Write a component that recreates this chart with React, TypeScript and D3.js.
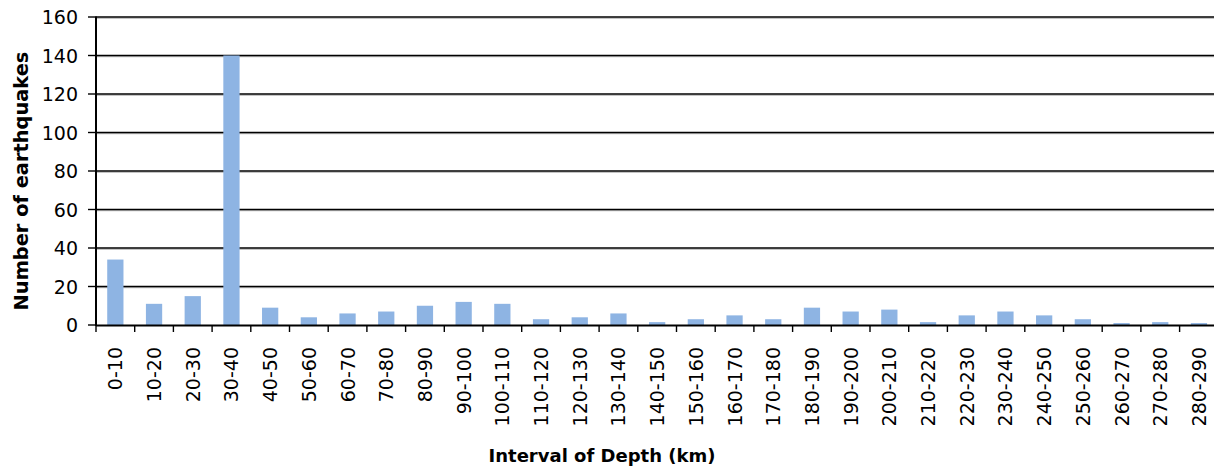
import { scaleBand, scaleLinear } from 'd3'

// Earthquake count per depth interval (km)
const categories = [
  '0-10', '10-20', '20-30', '30-40', '40-50', '50-60', '60-70', '70-80', '80-90', '90-100',
  '100-110', '110-120', '120-130', '130-140', '140-150', '150-160', '160-170', '170-180', '180-190', '190-200',
  '200-210', '210-220', '220-230', '230-240', '240-250', '250-260', '260-270', '270-280', '280-290',
]
const counts = [
  34, 11, 15, 140, 9, 4, 6, 7, 10, 12,
  11, 3, 4, 6, 1.5, 3, 5, 3, 9, 7,
  8, 1.5, 5, 7, 5, 3, 1, 1.5, 1,
]
const yTicks = [0, 20, 40, 60, 80, 100, 120, 140, 160]

const W = 1214
const H = 467
const LEFT = 96
const TOP = 17
const BOTTOM = 325
const STEP = 38.7
const FONT = 'Verdana, "DejaVu Sans", sans-serif'
const BAR_FILL = '#8eb4e3'

export default function App() {
  const x = scaleBand<string>()
    .domain(categories)
    .range([LEFT, LEFT + STEP * categories.length])
    .paddingInner(0.58)
    .paddingOuter(0.29)
  const y = scaleLinear().domain([0, 160]).range([BOTTOM, TOP])
  const step = x.step()

  return (
    <>
      <style>{`body{margin:0}`}</style>
      <svg width={W} height={H} viewBox={`0 0 ${W} ${H}`} style={{ display: 'block', fontFamily: FONT }}>
        <rect width={W} height={H} fill="#fff" />

        {/* gridlines with a faint shadow underneath */}
        {yTicks.filter((t) => t > 0).map((t) => (
          <g key={t}>
            <line x1={LEFT} x2={W} y1={y(t) + 1.2} y2={y(t) + 1.2} stroke="#aaa" strokeWidth={1} />
            <line x1={LEFT} x2={W} y1={y(t)} y2={y(t)} stroke="#000" strokeWidth={1.4} />
          </g>
        ))}

        {categories.map((c, i) => {
          const v = counts[i]
          return <rect key={c} x={x(c)} y={y(v)} width={x.bandwidth()} height={BOTTOM - y(v)} fill={BAR_FILL} />
        })}

        {/* axes */}
        <line x1={LEFT} x2={LEFT} y1={TOP - 0.5} y2={BOTTOM + 1} stroke="#000" strokeWidth={2} />
        <line x1={LEFT} x2={W} y1={BOTTOM + 0.5} y2={BOTTOM + 0.5} stroke="#000" strokeWidth={2} />

        {yTicks.map((t) => (
          <g key={t}>
            <line x1={LEFT - 8} x2={LEFT} y1={y(t)} y2={y(t)} stroke="#000" strokeWidth={1.4} />
            <text x={78} y={y(t)} textAnchor="end" dominantBaseline="central" fontSize={19} fill="#000">
              {t}
            </text>
          </g>
        ))}

        {categories.map((c, i) => {
          const bx = LEFT + i * step
          const cx = (x(c) ?? 0) + x.bandwidth() / 2
          return (
            <g key={c}>
              <line x1={bx} x2={bx} y1={BOTTOM} y2={BOTTOM + 7} stroke="#000" strokeWidth={1.4} />
              <text
                transform={`translate(${cx}, 347) rotate(-90)`}
                textAnchor="end"
                dominantBaseline="central"
                fontSize={19}
                fill="#000"
              >
                {c}
              </text>
            </g>
          )
        })}

        <text
          transform="translate(21, 181) rotate(-90)"
          textAnchor="middle"
          dominantBaseline="central"
          fontSize={19.4}
          fontWeight="bold"
          fill="#000"
        >
          Number of earthquakes
        </text>
        <text x={602} y={455} textAnchor="middle" dominantBaseline="central" fontSize={18} fontWeight="bold" fill="#000">
          Interval of Depth (km)
        </text>
      </svg>
    </>
  )
}
